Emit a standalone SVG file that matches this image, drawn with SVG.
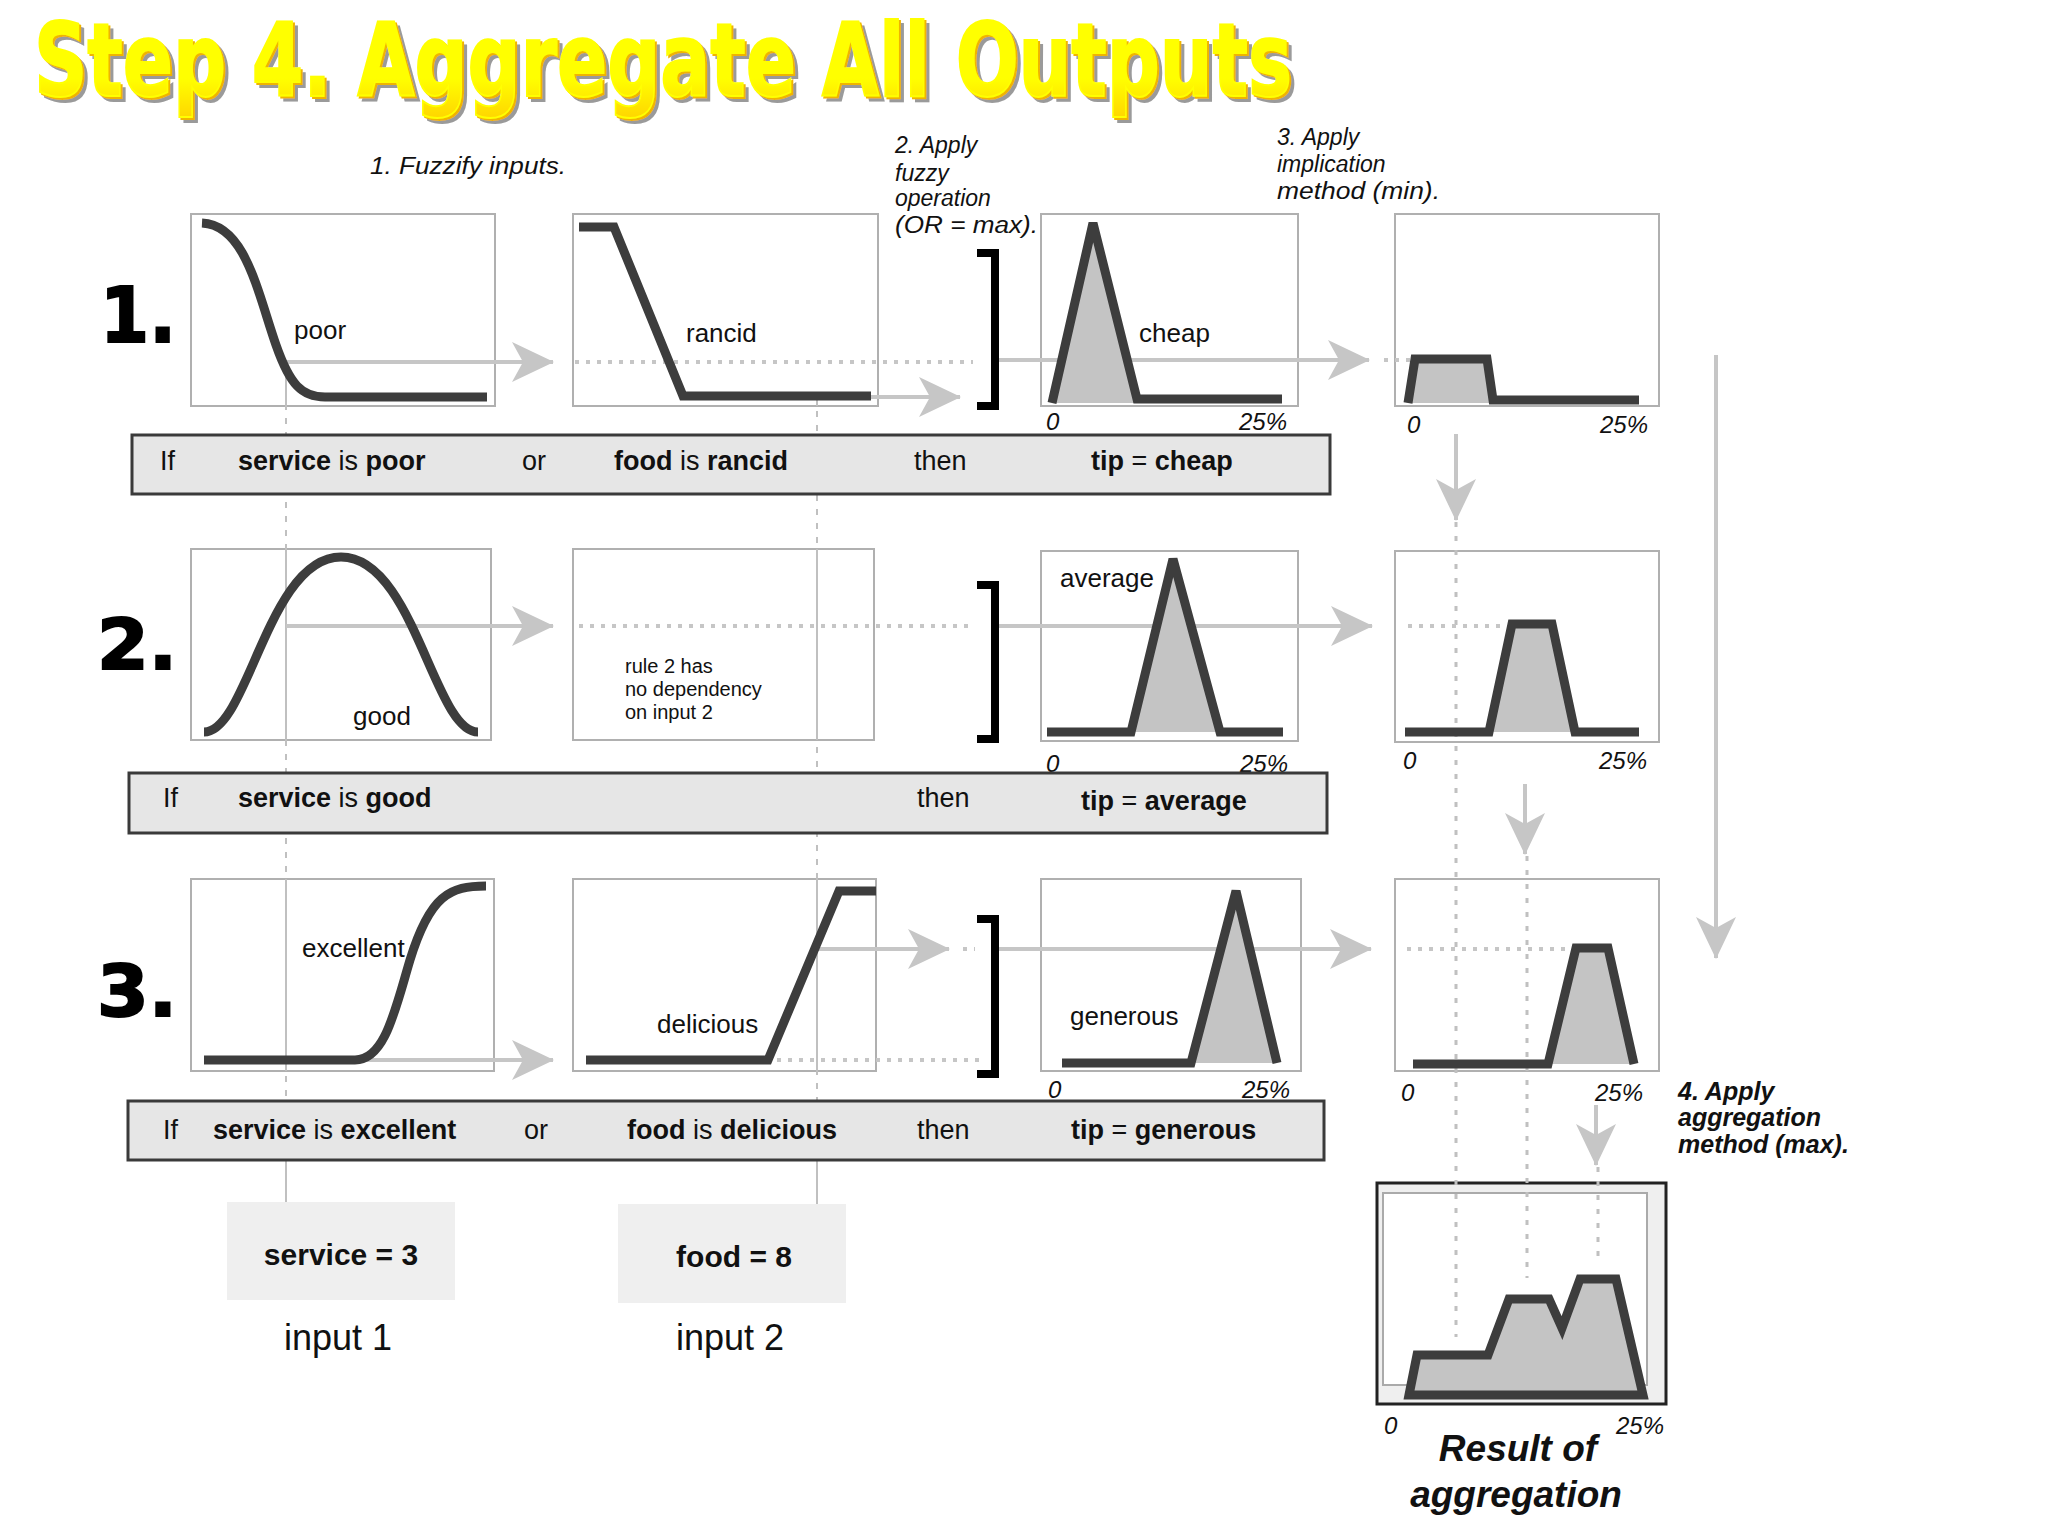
<svg xmlns="http://www.w3.org/2000/svg" width="2048" height="1536" viewBox="0 0 2048 1536">
<defs>
<marker id="ah" viewBox="0 0 42 40" refX="41" refY="20" markerWidth="42" markerHeight="40" markerUnits="userSpaceOnUse" orient="auto">
<path d="M0,0 L42,20 L0,40 L11,20 Z" fill="#c6c6c6"/>
</marker>
<linearGradient id="tg" x1="0" y1="0" x2="0" y2="1">
<stop offset="0" stop-color="#ffff00"/>
<stop offset="0.65" stop-color="#ffff00"/>
<stop offset="1" stop-color="#ffd400"/>
</linearGradient>
<filter id="ts" x="-2%" y="-10%" width="105%" height="130%">
<feOffset in="SourceAlpha" dx="5" dy="5" result="o1"/>
<feFlood flood-color="#9a9a9a"/>
<feComposite in2="o1" operator="in" result="sh"/>
<feOffset in="SourceAlpha" dx="2" dy="2" result="o2"/>
<feFlood flood-color="#f0b400"/>
<feComposite in2="o2" operator="in" result="orng"/>
<feMerge><feMergeNode in="sh"/><feMergeNode in="orng"/><feMergeNode in="SourceGraphic"/></feMerge>
</filter>
<style>
.t{font-family:"Liberation Sans",Arial,sans-serif;fill:#111}
.it{font-style:italic}
.b{font-weight:bold}
.box{fill:#fff;stroke:#b0b0b0;stroke-width:2}
.bar{fill:#e6e6e6;stroke:#3a3a3a;stroke-width:3}
.crv{fill:none;stroke:#3d3d3d;stroke-width:9;stroke-linejoin:miter;stroke-linecap:butt}
.fil{fill:#c4c4c4;stroke:none}
.arr{fill:none;stroke:#c6c6c6;stroke-width:4}
.dot{fill:none;stroke:#c6c6c6;stroke-width:4;stroke-dasharray:4 7}
.vd{fill:none;stroke:#c0c0c0;stroke-width:3;stroke-dasharray:5 9}
.vs{fill:none;stroke:#c0c0c0;stroke-width:2}
.vdash{fill:none;stroke:#c0c0c0;stroke-width:2;stroke-dasharray:6 8}
.brk{fill:none;stroke:#000;stroke-width:8;stroke-linejoin:miter}
.num{font-family:"DejaVu Sans",sans-serif;font-weight:900;fill:#000;stroke:#000;stroke-width:2}
.rt{font-family:"Liberation Sans",Arial,sans-serif;fill:#111;font-size:27px}
</style>
</defs>
<rect width="2048" height="1536" fill="#fff"/>

<g id="title">
<text x="34" y="96" font-family="DejaVu Sans,sans-serif" font-weight="bold" font-size="102" textLength="1258" lengthAdjust="spacingAndGlyphs" fill="url(#tg)" stroke="#ffff00" stroke-width="2" filter="url(#ts)">Step 4. Aggregate All Outputs</text>
</g>

<g id="step-labels">
<text class="t it" x="370" y="174" font-size="23" textLength="196" lengthAdjust="spacingAndGlyphs">1. Fuzzify inputs.</text>
<text class="t it" x="895" y="153" font-size="23">2. Apply</text>
<text class="t it" x="895" y="181" font-size="23">fuzzy</text>
<text class="t it" x="895" y="206" font-size="23">operation</text>
<text class="t it" x="895" y="233" font-size="23" textLength="143" lengthAdjust="spacingAndGlyphs">(OR = max).</text>
<text class="t it" x="1277" y="145" font-size="23">3. Apply</text>
<text class="t it" x="1277" y="172" font-size="23">implication</text>
<text class="t it" x="1277" y="199" font-size="23" textLength="163" lengthAdjust="spacingAndGlyphs">method (min).</text>
<text class="t it b" x="1678" y="1100" font-size="25">4. Apply</text>
<text class="t it b" x="1678" y="1126" font-size="25">aggregation</text>
<text class="t it b" x="1678" y="1153" font-size="25">method (max).</text>
</g>

<g id="rule-numbers">
<text class="num" x="100" y="342" font-size="76" textLength="76" lengthAdjust="spacingAndGlyphs">1.</text>
<text class="num" x="97" y="669" font-size="70" textLength="80" lengthAdjust="spacingAndGlyphs">2.</text>
<text class="num" x="97" y="1016" font-size="72" textLength="80" lengthAdjust="spacingAndGlyphs">3.</text>
</g>

<g id="box-poor"><rect class="box" x="191" y="214" width="304" height="192"/></g>
<g id="box-rancid"><rect class="box" x="573" y="214" width="305" height="192"/></g>
<g id="box-cheap"><rect class="box" x="1041" y="214" width="257" height="192"/></g>
<g id="box-impl1"><rect class="box" x="1395" y="214" width="264" height="192"/></g>
<g id="box-good"><rect class="box" x="191" y="549" width="300" height="191"/></g>
<g id="box-nodep"><rect class="box" x="573" y="549" width="301" height="191"/></g>
<g id="box-average"><rect class="box" x="1041" y="551" width="257" height="190"/></g>
<g id="box-impl2"><rect class="box" x="1395" y="551" width="264" height="191"/></g>
<g id="box-excellent"><rect class="box" x="191" y="879" width="303" height="192"/></g>
<g id="box-delicious"><rect class="box" x="573" y="879" width="303" height="192"/></g>
<g id="box-generous"><rect class="box" x="1041" y="879" width="260" height="192"/></g>
<g id="box-impl3"><rect class="box" x="1395" y="879" width="264" height="192"/></g>
<g id="box-result">
<rect x="1377" y="1183" width="289" height="221" fill="#efefef" stroke="#222" stroke-width="3"/>
<rect x="1383" y="1193" width="264" height="192" fill="#fff" stroke="#aaa" stroke-width="2"/>
</g>

<g id="connectors">
<path class="vdash" d="M286,362 V1202"/>
<path class="vs" d="M286,362 V406 M286,549 V740 M286,879 V1071 M286,1160 V1202"/>
<path class="vdash" d="M817,397 V1204"/>
<path class="vs" d="M817,397 V406 M817,549 V740 M817,879 V1071 M817,1160 V1204"/>
<path class="vd" d="M1456,522 V1337"/>
<path class="vd" d="M1527,856 V1278"/>
<path class="vd" d="M1598,1167 V1265"/>
<path class="arr" d="M286,362 H553" marker-end="url(#ah)"/>
<path class="dot" d="M575,362 H973"/>
<path class="arr" d="M817,397 H960" marker-end="url(#ah)"/>
<path class="arr" d="M995,360 H1369" marker-end="url(#ah)"/>
<path class="dot" d="M1384,360 H1412"/>
<path class="arr" d="M286,626 H553" marker-end="url(#ah)"/>
<path class="dot" d="M579,626 H973"/>
<path class="arr" d="M995,626 H1372" marker-end="url(#ah)"/>
<path class="dot" d="M1408,626 H1505"/>
<path class="arr" d="M286,1060 H553" marker-end="url(#ah)"/>
<path class="dot" d="M777,1060 H980"/>
<path class="arr" d="M817,949 H949" marker-end="url(#ah)"/>
<path class="dot" d="M963,949 H975"/>
<path class="arr" d="M995,949 H1371" marker-end="url(#ah)"/>
<path class="dot" d="M1407,949 H1570"/>
<path class="arr" d="M1456,434 V520" marker-end="url(#ah)"/>
<path class="arr" d="M1525,784 V854" marker-end="url(#ah)"/>
<path class="arr" d="M1596,1105 V1165" marker-end="url(#ah)"/>
<path class="arr" d="M1716,355 V958" marker-end="url(#ah)"/>
</g>

<g id="brackets">
<path class="brk" d="M977,253 H995 V406 H977"/>
<path class="brk" d="M977,585 H995 V739 H977"/>
<path class="brk" d="M977,919 H995 V1074 H977"/>
</g>

<g id="curves">
<path class="crv" d="M202,223 C245,225 257,290 276,345 C290,385 302,397 325,397 L487,397"/>
<path class="crv" d="M579,227 L614,227 L683,396 L871,396"/>
<path class="fil" d="M1052,403 L1093,223 L1137,403 Z"/>
<path class="crv" d="M1052,403 L1093,223 L1137,399 L1282,399"/>
<path class="fil" d="M1408,403 L1415,359 L1487,359 L1493,403 Z"/>
<path class="crv" d="M1408,403 L1415,359 L1487,359 L1493,400 L1639,400"/>

<path class="crv" d="M204,732 C248,732 268,557 341,557 C414,557 434,732 478,732"/>
<path class="fil" d="M1131,732 L1173,559 L1220,732 Z"/>
<path class="crv" d="M1047,732 L1131,732 L1173,559 L1220,732 L1283,732"/>
<path class="fil" d="M1489,732 L1512,624 L1552,624 L1575,732 Z"/>
<path class="crv" d="M1405,732 L1489,732 L1512,624 L1552,624 L1575,732 L1639,732"/>

<path class="crv" d="M204,1060 L355,1060 C385,1060 395,1010 410,960 C430,895 450,886 486,886"/>
<path class="crv" d="M586,1060 L768,1060 L839,891 L876,891"/>
<path class="fil" d="M1191,1063 L1236,891 L1277,1063 Z"/>
<path class="crv" d="M1062,1063 L1191,1063 L1236,891 L1277,1063"/>
<path class="fil" d="M1548,1064 L1576,948 L1608,948 L1634,1064 Z"/>
<path class="crv" d="M1413,1064 L1548,1064 L1576,948 L1608,948 L1634,1064"/>

<path d="M1409,1395 L1417,1355 L1488,1355 L1509,1299 L1549,1299 L1562,1328 L1580,1279 L1616,1279 L1643,1395 Z" fill="#c4c4c4" stroke="#3d3d3d" stroke-width="9" stroke-linejoin="miter"/>
</g>

<g id="curve-labels">
<text class="t" x="294" y="339" font-size="26">poor</text>
<text class="t" x="686" y="342" font-size="26">rancid</text>
<text class="t" x="1139" y="342" font-size="26">cheap</text>
<text class="t" x="353" y="725" font-size="26">good</text>
<text class="t" x="1060" y="587" font-size="26">average</text>
<text class="t" x="302" y="957" font-size="26">excellent</text>
<text class="t" x="657" y="1033" font-size="26">delicious</text>
<text class="t" x="1070" y="1025" font-size="26">generous</text>
<text class="t" x="625" y="673" font-size="20">rule 2 has</text>
<text class="t" x="625" y="696" font-size="20">no dependency</text>
<text class="t" x="625" y="719" font-size="20">on input 2</text>
</g>

<g id="axis-labels">
<text class="t it" x="1046" y="430" font-size="24">0</text>
<text class="t it" x="1239" y="430" font-size="24">25%</text>
<text class="t it" x="1407" y="433" font-size="24">0</text>
<text class="t it" x="1600" y="433" font-size="24">25%</text>
<text class="t it" x="1046" y="772" font-size="24">0</text>
<text class="t it" x="1240" y="772" font-size="24">25%</text>
<text class="t it" x="1403" y="769" font-size="24">0</text>
<text class="t it" x="1599" y="769" font-size="24">25%</text>
<text class="t it" x="1048" y="1098" font-size="24">0</text>
<text class="t it" x="1242" y="1098" font-size="24">25%</text>
<text class="t it" x="1401" y="1101" font-size="24">0</text>
<text class="t it" x="1595" y="1101" font-size="24">25%</text>
<text class="t it" x="1384" y="1434" font-size="24">0</text>
<text class="t it" x="1616" y="1434" font-size="24">25%</text>
</g>

<g id="rule-1">
<rect class="bar" x="132" y="435" width="1198" height="59"/>
<text class="rt" x="160" y="470">If</text>
<text class="rt" x="238" y="470"><tspan class="b">service</tspan> is <tspan class="b">poor</tspan></text>
<text class="rt" x="522" y="470">or</text>
<text class="rt" x="614" y="470"><tspan class="b">food</tspan> is <tspan class="b">rancid</tspan></text>
<text class="rt" x="914" y="470">then</text>
<text class="rt" x="1091" y="470"><tspan class="b">tip</tspan> = <tspan class="b">cheap</tspan></text>
</g>
<g id="rule-2">
<rect class="bar" x="129" y="773" width="1198" height="60"/>
<text class="rt" x="163" y="807">If</text>
<text class="rt" x="238" y="807"><tspan class="b">service</tspan> is <tspan class="b">good</tspan></text>
<text class="rt" x="917" y="807">then</text>
<text class="rt" x="1081" y="810"><tspan class="b">tip</tspan> = <tspan class="b">average</tspan></text>
</g>
<g id="rule-3">
<rect class="bar" x="128" y="1101" width="1196" height="59"/>
<text class="rt" x="163" y="1139">If</text>
<text class="rt" x="213" y="1139"><tspan class="b">service</tspan> is <tspan class="b">excellent</tspan></text>
<text class="rt" x="524" y="1139">or</text>
<text class="rt" x="627" y="1139"><tspan class="b">food</tspan> is <tspan class="b">delicious</tspan></text>
<text class="rt" x="917" y="1139">then</text>
<text class="rt" x="1071" y="1139"><tspan class="b">tip</tspan> = <tspan class="b">generous</tspan></text>
</g>

<g id="input-1">
<rect x="227" y="1202" width="228" height="98" fill="#efefef"/>
<text class="t b" x="341" y="1265" font-size="30" text-anchor="middle">service = 3</text>
<text class="t" x="338" y="1350" font-size="36" text-anchor="middle">input 1</text>
</g>
<g id="input-2">
<rect x="618" y="1204" width="228" height="99" fill="#efefef"/>
<text class="t b" x="734" y="1267" font-size="30" text-anchor="middle">food = 8</text>
<text class="t" x="730" y="1350" font-size="36" text-anchor="middle">input 2</text>
</g>

<g id="result-label">
<text class="t it b" x="1518" y="1461" font-size="37" text-anchor="middle">Result of</text>
<text class="t it b" x="1516" y="1507" font-size="37" text-anchor="middle">aggregation</text>
</g>
</svg>
